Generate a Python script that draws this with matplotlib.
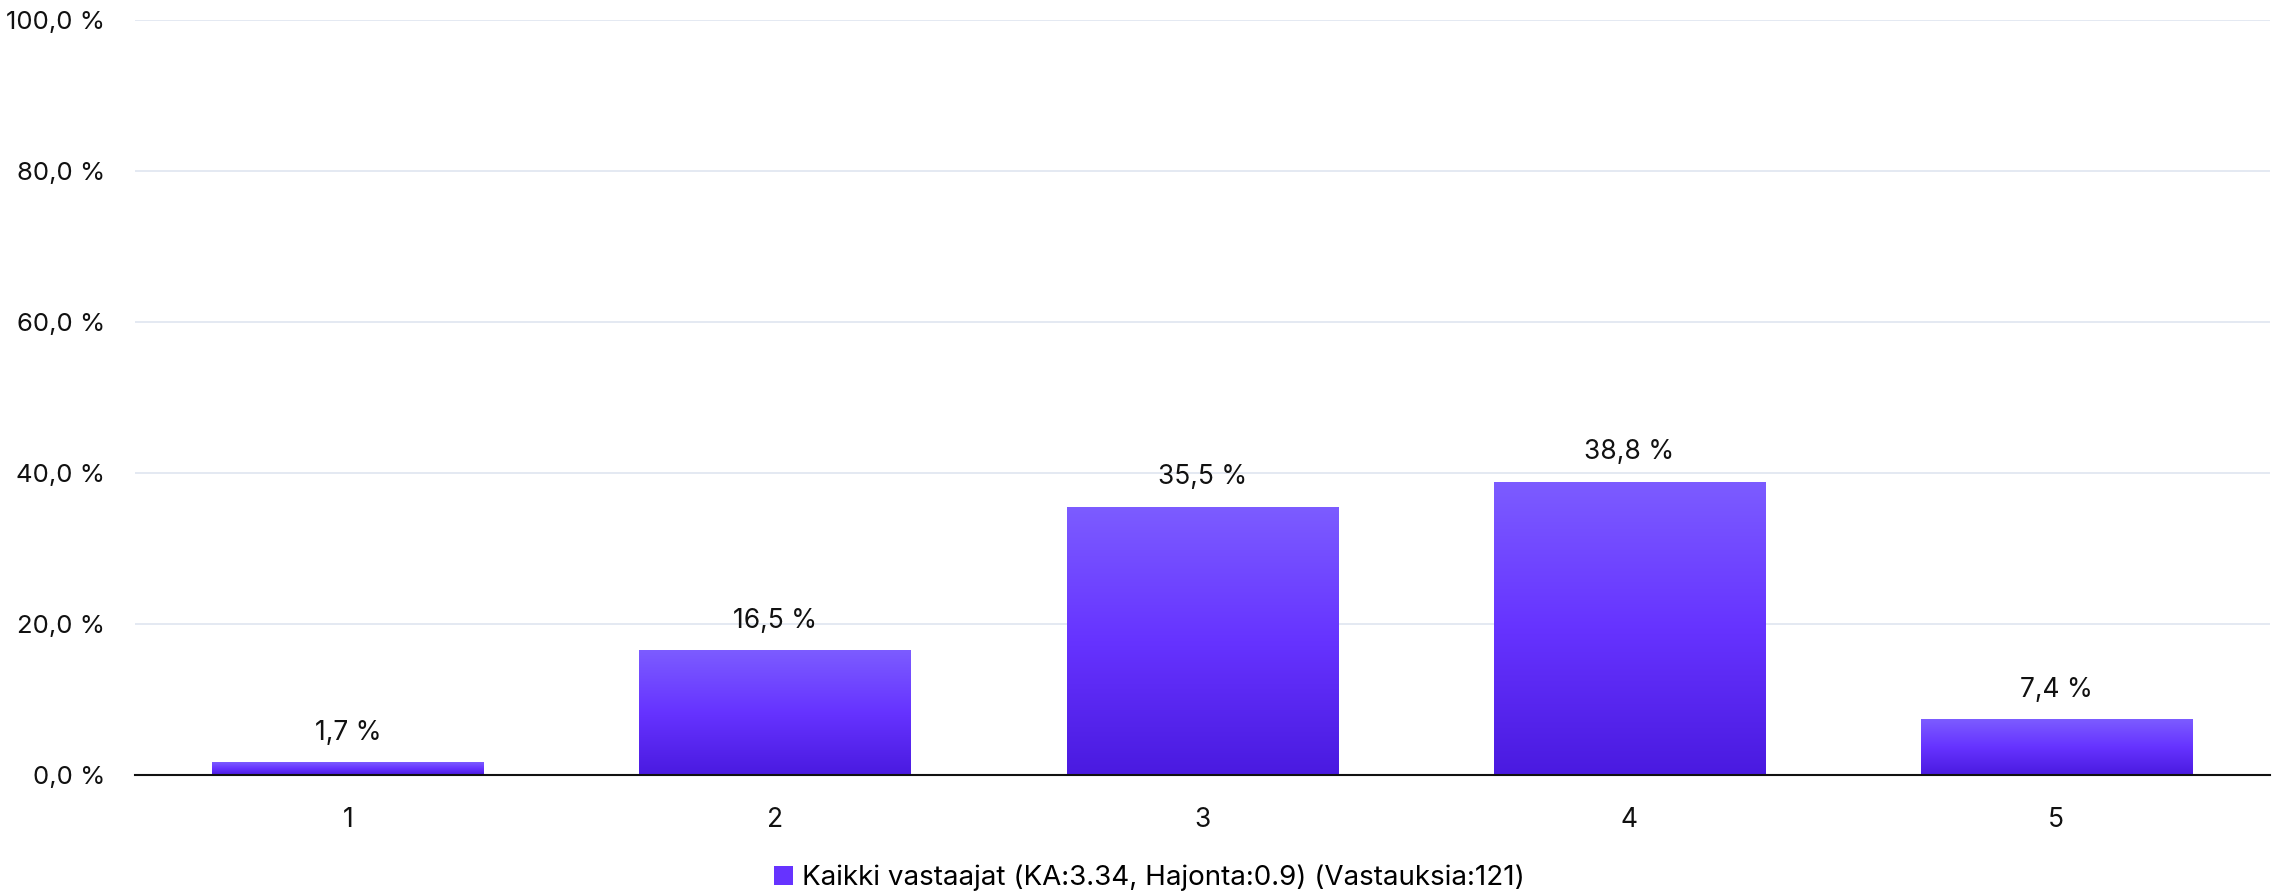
import matplotlib
matplotlib.use("Agg")
import matplotlib.pyplot as plt
import numpy as np
from matplotlib.colors import LinearSegmentedColormap
from matplotlib.patches import Patch

categories = ["1", "2", "3", "4", "5"]
shares = [1.7, 16.5, 35.5, 38.8, 7.4]
y_ticks = [0, 20, 40, 60, 80, 100]
series_label = "Kaikki vastaajat (KA:3.34, Hajonta:0.9) (Vastauksia:121)"

plt.rcParams["font.family"] = ["Inter", "DejaVu Sans"]

# bottom -> top violet gradient
grad = LinearSegmentedColormap.from_list("violet", ["#4a1ae0", "#6633ff", "#7c5cff"])


def fmt_pct(v):
    return f"{v:.1f}".replace(".", ",") + " %"


fig = plt.figure(figsize=(22.8, 8.96), dpi=100)
ax = fig.add_axes([0.059, 0.135, 0.9365, 0.8425])

x = np.arange(len(categories))
bars = ax.bar(x, shares, width=0.635, color="none", zorder=3)
g = np.linspace(0, 1, 256).reshape(-1, 1)
for b in bars:
    x0, y0 = b.get_x(), b.get_y()
    w, h = b.get_width(), b.get_height()
    im = ax.imshow(g, cmap=grad, origin="lower", aspect="auto",
                   extent=(x0, x0 + w, y0, y0 + h), zorder=3)
    im.set_clip_path(b)

for xi, v in zip(x, shares):
    ax.annotate(fmt_pct(v), (xi, v), xytext=(0, 12), textcoords="offset points",
                ha="center", va="bottom", fontsize=19, color="#111111")

ax.set_xlim(-0.5, len(categories) - 0.5)
ax.set_ylim(0, 100)
ax.set_xticks(x)
ax.set_xticklabels(categories)
ax.set_yticks(y_ticks)
ax.set_yticklabels([fmt_pct(t) for t in y_ticks])
ax.tick_params(axis="both", length=0, labelsize=19, colors="#111111")
ax.tick_params(axis="y", labelsize=18.5, pad=21)
ax.tick_params(axis="x", pad=23)
ax.grid(axis="y", color="#dfe5f0", linewidth=1.2, zorder=0)
ax.set_axisbelow(True)
for s in ["top", "right", "left"]:
    ax.spines[s].set_visible(False)
ax.spines["bottom"].set_color("#111111")
ax.spines["bottom"].set_linewidth(1.5)
ax.spines["bottom"].set_zorder(4)

fig.legend(handles=[Patch(facecolor="#6633ff", edgecolor="none", label=series_label)],
           loc="center", bbox_to_anchor=(0.504, 0.02), frameon=False, fontsize=20,
           handlelength=0.7, handleheight=0.7, handletextpad=0.3)

fig.savefig("out.png", dpi=100)
